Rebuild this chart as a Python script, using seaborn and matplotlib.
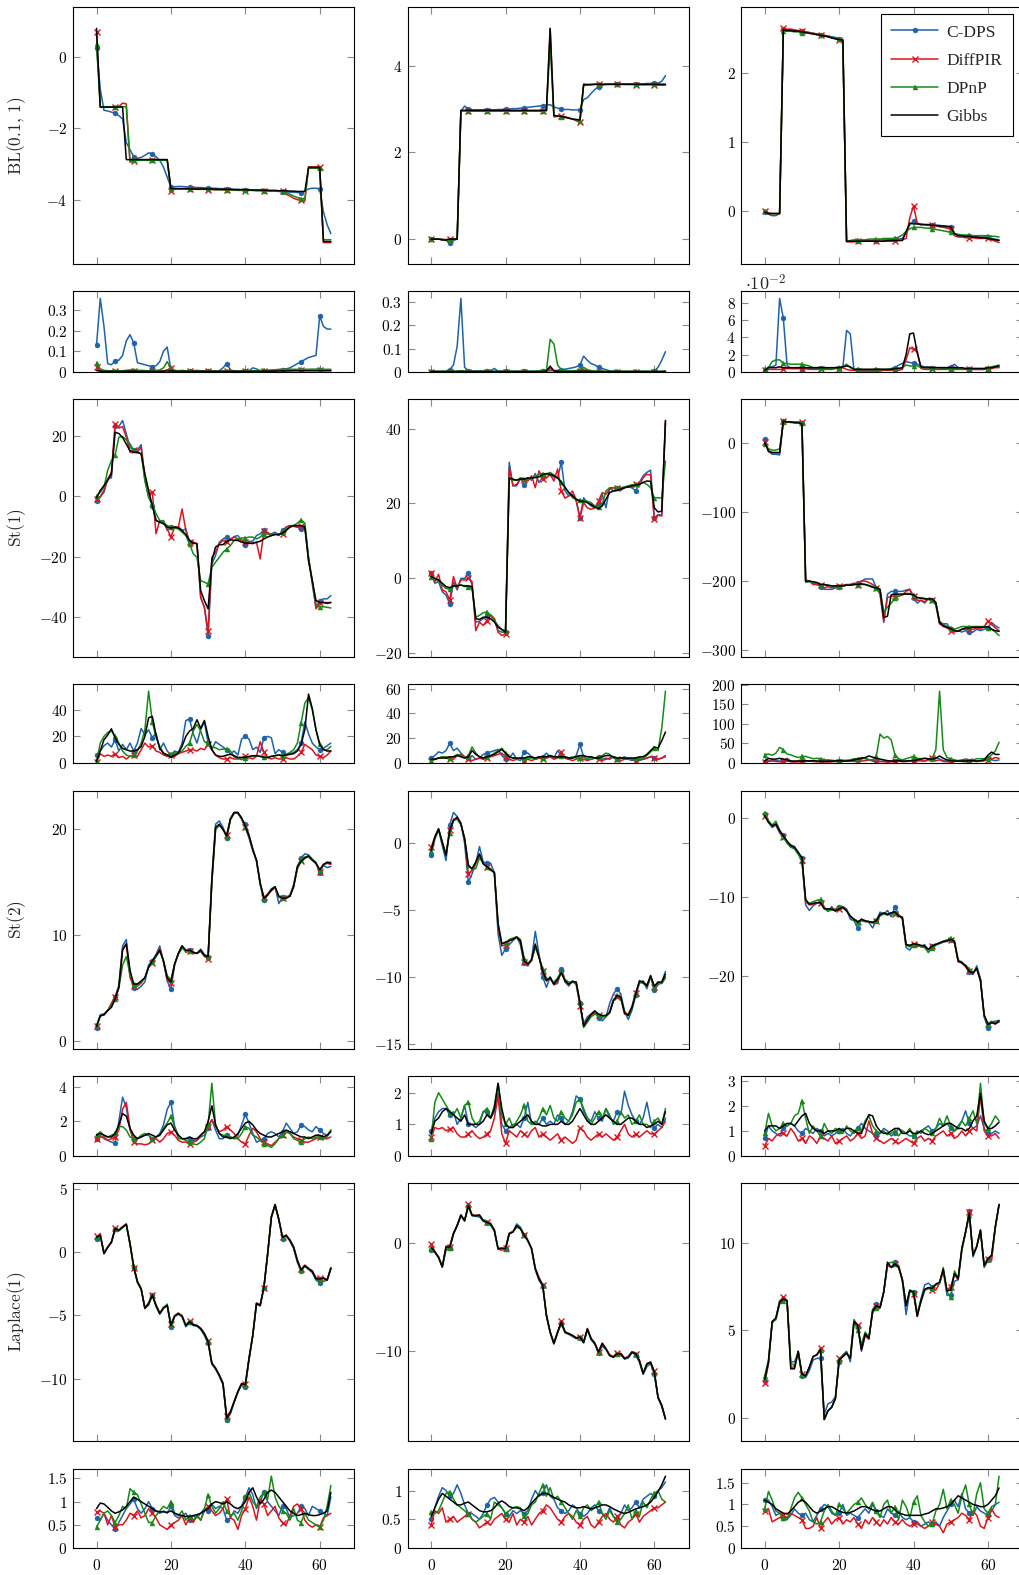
import numpy as np
import matplotlib
matplotlib.use("Agg")
import matplotlib.pyplot as plt
from matplotlib.lines import Line2D
from matplotlib.ticker import MultipleLocator, FuncFormatter
import seaborn as sns

# ---------------- data (index 0..63) ----------------
methods = ["C-DPS", "DiffPIR", "DPnP", "Gibbs"]

# BL(0.1,1)
bl1_cdps = [0.23,-0.9,-1.5,-1.52,-1.55,-1.58,-1.65,-1.74,-2.4,-2.6,
 -2.8,-2.84,-2.82,-2.76,-2.69,-2.72,-2.8,-2.9,-3.09,-3.37,
 -3.65,-3.64,-3.63,-3.63,-3.64,-3.65,-3.65,-3.66,-3.66,-3.67,
 -3.67,-3.68,-3.68,-3.69,-3.69,-3.7,-3.7,-3.71,-3.71,-3.72,
 -3.72,-3.73,-3.73,-3.74,-3.74,-3.75,-3.75,-3.76,-3.76,-3.77,
 -3.78,-3.78,-3.79,-3.79,-3.8,-3.8,-3.76,-3.7,-3.68,-3.68,
 -3.7,-4.34,-4.7,-4.95]
bl1_diffpir = [0.68,-1.41,-1.41,-1.41,-1.41,-1.41,-1.4,-1.3,-1.32,-2.95,
 -2.93,-2.88,-2.88,-2.88,-2.88,-2.88,-2.88,-2.88,-2.88,-2.88,
 -3.77,-3.7,-3.7,-3.7,-3.7,-3.7,-3.71,-3.71,-3.71,-3.71,
 -3.72,-3.72,-3.72,-3.72,-3.73,-3.73,-3.73,-3.73,-3.74,-3.74,
 -3.77,-3.74,-3.74,-3.75,-3.75,-3.75,-3.75,-3.76,-3.76,-3.76,
 -3.77,-3.85,-3.9,-3.96,-4.0,-4.02,-4.04,-3.08,-3.08,-3.08,
 -3.08,-5.2,-5.2,-5.2]
bl1_dpnp = [0.35,-1.4,-1.4,-1.4,-1.4,-1.4,-1.4,-1.4,-1.4,-2.92,
 -2.9,-2.9,-2.9,-2.9,-2.9,-2.9,-2.9,-2.9,-2.9,-2.9,
 -3.7,-3.7,-3.7,-3.7,-3.7,-3.7,-3.7,-3.71,-3.71,-3.71,
 -3.71,-3.71,-3.72,-3.72,-3.72,-3.72,-3.72,-3.73,-3.73,-3.73,
 -3.73,-3.73,-3.74,-3.74,-3.74,-3.74,-3.74,-3.75,-3.75,-3.75,
 -3.75,-3.8,-3.85,-3.9,-3.94,-3.97,-3.98,-3.12,-3.12,-3.12,
 -3.12,-5.12,-5.12,-5.12]
bl1_gibbs = [0.79,-1.41,-1.41,-1.41,-1.41,-1.41,-1.41,-1.41,-2.88,-2.88,
 -2.88,-2.88,-2.88,-2.88,-2.88,-2.88,-2.88,-2.88,-2.88,-2.88,
 -3.69,-3.69,-3.69,-3.69,-3.69,-3.7,-3.7,-3.7,-3.7,-3.7,
 -3.7,-3.7,-3.71,-3.71,-3.71,-3.71,-3.71,-3.72,-3.72,-3.72,
 -3.72,-3.73,-3.73,-3.73,-3.73,-3.74,-3.74,-3.74,-3.74,-3.75,
 -3.75,-3.75,-3.76,-3.76,-3.77,-3.77,-3.77,-3.1,-3.1,-3.1,
 -3.1,-5.17,-5.17,-5.17]

bl2_cdps = [0.0,0.0,0.0,0.0,-0.03,-0.08,-0.03,0.0,2.95,3.07,
 3.0,2.98,2.98,2.98,2.98,2.98,2.98,2.98,2.99,2.99,
 3.0,3.0,3.01,3.01,3.02,3.03,3.04,3.05,3.06,3.07,
 3.08,3.09,3.1,3.05,3.02,3.0,2.99,2.99,2.98,2.98,
 2.98,3.22,3.26,3.36,3.45,3.51,3.55,3.57,3.58,3.58,
 3.58,3.58,3.58,3.58,3.58,3.58,3.58,3.58,3.59,3.59,
 3.6,3.6,3.64,3.77]
bl2_diffpir = [0.0,0.0,0.0,-0.01,-0.01,0.0,0.0,0.0,2.96,2.96,
 2.95,2.95,2.95,2.95,2.95,2.95,2.95,2.95,2.95,2.95,
 2.95,2.95,2.95,2.95,2.95,2.95,2.95,2.95,2.95,2.95,
 2.95,2.96,4.86,2.82,2.83,2.84,2.82,2.8,2.77,2.73,
 2.69,3.58,3.57,3.57,3.57,3.57,3.57,3.57,3.57,3.57,
 3.57,3.57,3.57,3.57,3.57,3.56,3.56,3.56,3.56,3.56,
 3.56,3.55,3.55,3.55]
bl2_dpnp = [0.0,0.0,0.0,-0.01,-0.02,-0.01,0.0,0.0,2.95,2.96,
 2.96,2.96,2.96,2.96,2.96,2.96,2.96,2.96,2.96,2.96,
 2.96,2.96,2.96,2.96,2.96,2.96,2.96,2.96,2.96,2.96,
 2.96,2.97,4.5,2.85,2.84,2.82,2.81,2.79,2.77,2.75,
 2.73,3.55,3.56,3.57,3.57,3.57,3.57,3.57,3.57,3.57,
 3.57,3.57,3.57,3.57,3.57,3.57,3.57,3.57,3.57,3.57,
 3.57,3.57,3.57,3.57]
bl2_gibbs = [0.0,0.0,0.0,-0.02,-0.02,0.0,0.0,0.0,2.97,2.97,
 2.97,2.97,2.97,2.97,2.97,2.97,2.97,2.97,2.97,2.97,
 2.97,2.97,2.97,2.97,2.97,2.97,2.97,2.97,2.97,2.97,
 2.97,2.97,4.86,2.85,2.84,2.83,2.81,2.79,2.77,2.76,
 2.75,3.56,3.56,3.56,3.57,3.57,3.57,3.57,3.57,3.57,
 3.57,3.57,3.57,3.57,3.57,3.57,3.57,3.57,3.57,3.57,
 3.57,3.57,3.57,3.57]

bl3_cdps = [-0.02,-0.05,-0.07,-0.07,-0.04,2.63,2.62,2.62,2.61,2.6,
 2.6,2.59,2.58,2.57,2.56,2.55,2.54,2.53,2.52,2.51,
 2.49,2.48,-0.44,-0.44,-0.44,-0.44,-0.43,-0.43,-0.43,-0.43,
 -0.43,-0.42,-0.42,-0.42,-0.42,-0.41,-0.41,-0.4,-0.32,-0.2,
 -0.15,-0.18,-0.19,-0.2,-0.2,-0.2,-0.21,-0.21,-0.22,-0.22,
 -0.23,-0.33,-0.36,-0.37,-0.37,-0.37,-0.38,-0.38,-0.38,-0.38,
 -0.38,-0.4,-0.41,-0.42]
bl3_diffpir = [0.0,-0.03,-0.04,-0.04,-0.04,2.64,2.63,2.63,2.62,2.61,
 2.6,2.59,2.58,2.57,2.56,2.55,2.54,2.53,2.51,2.49,
 2.47,2.45,-0.45,-0.45,-0.45,-0.44,-0.44,-0.44,-0.44,-0.44,
 -0.44,-0.44,-0.44,-0.44,-0.44,-0.44,-0.43,-0.42,-0.4,-0.1,
 0.07,-0.18,-0.2,-0.2,-0.21,-0.21,-0.22,-0.23,-0.24,-0.25,
 -0.27,-0.36,-0.38,-0.38,-0.39,-0.39,-0.39,-0.4,-0.4,-0.4,
 -0.4,-0.42,-0.44,-0.46]
bl3_dpnp = [-0.01,-0.04,-0.04,-0.04,-0.04,2.6,2.6,2.6,2.59,2.59,
 2.58,2.58,2.57,2.56,2.55,2.54,2.53,2.52,2.51,2.5,
 2.49,2.47,-0.44,-0.43,-0.42,-0.42,-0.42,-0.42,-0.41,-0.41,
 -0.41,-0.41,-0.4,-0.4,-0.4,-0.4,-0.38,-0.35,-0.3,-0.26,
 -0.24,-0.24,-0.24,-0.25,-0.25,-0.26,-0.27,-0.28,-0.29,-0.3,
 -0.31,-0.33,-0.34,-0.35,-0.35,-0.35,-0.36,-0.36,-0.36,-0.36,
 -0.36,-0.37,-0.37,-0.38]
bl3_gibbs = [-0.02,-0.04,-0.04,-0.04,-0.04,2.62,2.61,2.61,2.6,2.6,
 2.59,2.58,2.57,2.56,2.55,2.54,2.53,2.52,2.5,2.49,
 2.48,2.47,-0.44,-0.44,-0.44,-0.44,-0.44,-0.44,-0.44,-0.44,
 -0.44,-0.44,-0.44,-0.43,-0.43,-0.43,-0.43,-0.43,-0.3,-0.18,
 -0.19,-0.19,-0.2,-0.2,-0.2,-0.21,-0.21,-0.22,-0.22,-0.23,
 -0.23,-0.33,-0.36,-0.36,-0.37,-0.37,-0.38,-0.38,-0.39,-0.39,
 -0.4,-0.41,-0.42,-0.43]

# BL errors
bl1e_cdps = [0.13,0.355,0.22,0.04,0.035,0.054,0.057,0.08,0.15,0.18,
 0.14,0.045,0.04,0.035,0.03,0.025,0.03,0.05,0.1,0.12,
 0.01,0.008,0.006,0.008,0.006,0.005,0.006,0.008,0.006,0.005,
 0.006,0.005,0.004,0.006,0.02,0.04,0.01,0.005,0.004,0.005,
 0.004,0.006,0.02,0.015,0.005,0.004,0.005,0.006,0.01,0.012,
 0.01,0.015,0.02,0.03,0.04,0.05,0.06,0.07,0.075,0.08,
 0.27,0.22,0.207,0.207]
bl1e_diffpir = [0.025,0.005,0.003,0.003,0.003,0.003,0.003,0.004,0.004,0.005,
 0.005,0.004,0.004,0.003,0.003,0.003,0.003,0.004,0.006,0.01,
 0.02,0.005,0.003,0.003,0.003,0.003,0.003,0.003,0.003,0.004,
 0.004,0.004,0.003,0.003,0.003,0.003,0.003,0.003,0.003,0.003,
 0.003,0.004,0.004,0.004,0.004,0.005,0.005,0.006,0.006,0.007,
 0.007,0.008,0.008,0.008,0.008,0.008,0.008,0.008,0.008,0.008,
 0.01,0.008,0.008,0.008]
bl1e_dpnp = [0.045,0.015,0.008,0.006,0.006,0.006,0.006,0.006,0.008,0.01,
 0.01,0.008,0.008,0.007,0.006,0.006,0.007,0.01,0.02,0.05,
 0.015,0.006,0.005,0.005,0.005,0.005,0.004,0.004,0.004,0.004,
 0.004,0.004,0.004,0.004,0.004,0.004,0.004,0.004,0.004,0.004,
 0.005,0.005,0.006,0.006,0.007,0.008,0.009,0.01,0.011,0.012,
 0.012,0.013,0.013,0.013,0.013,0.013,0.013,0.013,0.014,0.014,
 0.015,0.013,0.013,0.013]
bl1e_gibbs = [0.008,0.004,0.003,0.003,0.003,0.003,0.003,0.003,0.004,0.004,
 0.004,0.003,0.003,0.003,0.003,0.003,0.003,0.003,0.004,0.005,
 0.006,0.004,0.003,0.003,0.003,0.003,0.003,0.003,0.003,0.003,
 0.003,0.003,0.003,0.003,0.003,0.003,0.003,0.003,0.003,0.003,
 0.003,0.003,0.003,0.003,0.003,0.004,0.004,0.004,0.004,0.005,
 0.005,0.005,0.005,0.006,0.006,0.006,0.006,0.006,0.006,0.006,
 0.007,0.006,0.006,0.006]

bl2e_cdps = [0.002,0.002,0.002,0.002,0.003,0.01,0.03,0.11,0.315,0.02,
 0.005,0.004,0.004,0.004,0.004,0.005,0.006,0.015,0.004,0.003,
 0.003,0.003,0.003,0.003,0.003,0.003,0.003,0.003,0.003,0.003,
 0.003,0.004,0.005,0.006,0.007,0.01,0.012,0.015,0.018,0.022,
 0.03,0.068,0.05,0.036,0.03,0.02,0.015,0.01,0.005,0.003,
 0.002,0.002,0.002,0.002,0.002,0.002,0.002,0.002,0.002,0.002,
 0.003,0.02,0.05,0.087]
bl2e_diffpir = [0.001,0.001,0.001,0.001,0.001,0.001,0.001,0.001,0.002,0.002,
 0.001,0.001,0.001,0.001,0.001,0.001,0.001,0.001,0.001,0.001,
 0.001,0.001,0.001,0.001,0.001,0.001,0.001,0.001,0.001,0.001,
 0.001,0.003,0.015,0.004,0.002,0.002,0.002,0.002,0.002,0.003,
 0.005,0.01,0.004,0.002,0.001,0.001,0.001,0.001,0.001,0.001,
 0.001,0.001,0.001,0.001,0.001,0.001,0.001,0.001,0.001,0.001,
 0.001,0.001,0.001,0.002]
bl2e_dpnp = [0.003,0.003,0.003,0.003,0.003,0.003,0.004,0.004,0.005,0.004,
 0.003,0.003,0.003,0.003,0.003,0.003,0.003,0.003,0.003,0.003,
 0.003,0.003,0.003,0.003,0.003,0.003,0.003,0.003,0.003,0.004,
 0.005,0.007,0.14,0.12,0.03,0.01,0.006,0.005,0.005,0.006,
 0.01,0.02,0.01,0.006,0.004,0.003,0.003,0.003,0.003,0.003,
 0.003,0.003,0.003,0.003,0.003,0.003,0.003,0.003,0.003,0.003,
 0.003,0.003,0.003,0.004]
bl2e_gibbs = [0.002,0.002,0.002,0.002,0.002,0.002,0.002,0.002,0.003,0.002,
 0.002,0.002,0.002,0.002,0.002,0.002,0.002,0.002,0.002,0.002,
 0.002,0.002,0.002,0.002,0.002,0.002,0.002,0.002,0.002,0.002,
 0.002,0.004,0.025,0.005,0.003,0.002,0.002,0.002,0.002,0.002,
 0.003,0.004,0.003,0.002,0.002,0.002,0.002,0.002,0.002,0.002,
 0.002,0.002,0.002,0.002,0.002,0.002,0.002,0.002,0.002,0.002,
 0.002,0.002,0.002,0.003]

# third column in units of 1e-2
bl3e_cdps = [0.1,0.6,0.6,0.8,8.5,6.2,0.8,0.4,0.4,0.4,
 0.4,0.4,0.4,0.4,0.4,0.5,0.4,0.4,0.4,0.5,
 0.5,0.5,4.8,4.4,0.2,0.2,0.2,0.2,0.2,0.2,
 0.2,0.3,0.3,0.3,0.4,0.5,0.8,1.0,1.2,1.1,
 1.0,0.9,0.7,0.6,0.6,0.5,0.5,0.5,0.5,0.5,
 0.6,0.9,0.5,0.4,0.3,0.3,0.3,0.3,0.3,0.3,
 0.4,0.5,0.6,0.6]
bl3e_diffpir = [0.2,0.3,0.3,0.3,0.3,0.3,0.4,0.4,0.4,0.4,
 0.4,0.4,0.3,0.3,0.3,0.3,0.3,0.3,0.3,0.4,
 0.4,0.5,0.3,0.2,0.2,0.1,0.1,0.1,0.1,0.1,
 0.1,0.1,0.2,0.2,0.2,0.2,0.2,0.3,1.4,2.8,
 2.6,2.4,0.4,0.3,0.3,0.3,0.3,0.3,0.3,0.3,
 0.3,0.3,0.3,0.3,0.3,0.3,0.3,0.3,0.3,0.3,
 0.4,0.4,0.5,0.5]
bl3e_dpnp = [0.3,0.5,1.2,1.4,1.4,1.0,1.0,0.9,0.9,0.9,
 0.9,0.8,0.7,0.5,0.5,0.5,0.4,0.4,0.4,0.5,
 0.5,0.6,0.9,0.5,0.3,0.3,0.3,0.3,0.3,0.3,
 0.3,0.3,0.3,0.3,0.3,0.3,0.4,0.5,0.8,0.7,
 0.7,0.7,0.5,0.5,0.5,0.5,0.5,0.5,0.4,0.4,
 0.4,0.4,0.4,0.4,0.4,0.4,0.4,0.4,0.4,0.4,
 0.5,0.6,0.7,0.8]
bl3e_gibbs = [0.2,0.5,0.5,0.5,0.6,0.5,0.5,0.5,0.5,0.5,
 0.5,0.5,0.5,0.5,0.5,0.5,0.5,0.5,0.5,0.5,
 0.5,0.6,0.7,0.6,0.3,0.3,0.3,0.3,0.3,0.3,
 0.3,0.3,0.3,0.3,0.3,0.4,0.4,0.5,2.0,4.4,
 4.5,2.2,0.6,0.5,0.5,0.5,0.5,0.5,0.5,0.5,
 0.5,0.5,0.5,0.5,0.4,0.4,0.4,0.4,0.4,0.4,
 0.5,0.5,0.6,0.7]

# St(1)
st1a_cdps = [-1.6,-0.3,1.3,5.7,6.1,23.3,23.0,25.0,20.6,16.2,
 15.1,15.3,17.0,5.2,-0.3,-3.1,-8.0,-8.6,-8.0,-11.3,
 -10.2,-10.5,-10.0,-11.3,-10.8,-15.2,-15.2,-15.7,-33.4,-36.7,
 -46.0,-22.4,-19.6,-15.2,-14.1,-13.5,-14.4,-13.3,-13.0,-14.6,
 -16.0,-14.9,-14.9,-13.0,-12.4,-11.1,-12.4,-12.4,-11.9,-13.0,
 -11.3,-10.2,-9.7,-9.7,-10.2,-10.8,-9.7,-20.2,-29.0,-36.7,
 -34.5,-33.9,-33.9,-32.8]
st1a_diffpir = [-0.9,-0.1,1.9,5.7,7.9,23.9,22.5,23.0,19.5,14.5,
 15.3,14.5,16.2,6.3,0.8,1.3,-12.4,-8.0,-8.6,-10.8,
 -13.5,-10.2,-10.2,-4.2,-11.3,-15.2,-15.2,-15.7,-33.4,-36.7,
 -44.6,-20.2,-18.5,-15.7,-14.6,-15.2,-14.1,-13.5,-14.1,-14.6,
 -15.2,-15.5,-15.7,-15.2,-20.7,-11.6,-11.9,-13.0,-12.4,-12.4,
 -12.4,-10.2,-9.7,-10.0,-10.2,-9.7,-10.0,-21.3,-27.9,-37.2,
 -35.4,-35.1,-35.1,-35.1]
st1a_dpnp = [0.0,1.3,3.0,8.5,11.8,13.5,19.5,19.7,18.6,17.3,
 15.1,14.5,14.0,5.2,-0.3,-2.5,-5.8,-8.0,-8.6,-9.7,
 -10.2,-10.5,-10.8,-11.9,-13.0,-15.7,-19.0,-20.2,-27.9,-28.4,
 -29.0,-23.5,-21.8,-20.2,-18.5,-17.4,-16.3,-14.6,-14.1,-13.8,
 -13.8,-13.5,-13.5,-14.1,-13.5,-12.4,-12.4,-13.0,-12.4,-12.7,
 -11.9,-10.8,-10.2,-9.7,-8.9,-7.8,-8.9,-20.2,-27.9,-35.6,
 -36.7,-36.5,-36.7,-36.9]
st1a_gibbs = [-0.5,1.9,3.5,5.2,7.4,21.1,20.7,19.4,17.2,15.0,
 14.5,14.5,14.0,7.4,1.9,-3.1,-8.0,-8.6,-9.1,-10.2,
 -10.5,-10.2,-10.5,-11.3,-12.7,-14.6,-15.5,-15.7,-31.2,-34.5,
 -37.2,-21.3,-16.8,-16.0,-16.0,-14.9,-14.4,-14.6,-14.6,-15.2,
 -15.5,-15.5,-15.5,-15.2,-14.9,-14.1,-13.5,-13.0,-12.7,-12.7,
 -12.2,-11.3,-10.2,-9.7,-9.7,-9.7,-10.2,-21.3,-27.9,-34.5,
 -35.1,-35.1,-35.4,-35.1]

st1b_cdps = [1.3,-1.4,-1.0,-3.7,-4.6,-6.9,-1.0,-3.2,-0.1,-0.1,
 1.3,-1.9,-11.8,-11.6,-10.9,-10.2,-10.2,-10.9,-14.1,-14.5,
 -14.5,31.0,24.7,24.7,26.8,25.0,26.8,26.2,28.0,25.6,
 27.1,27.8,27.4,27.1,26.8,31.0,23.3,22.0,22.4,20.6,
 16.1,21.5,20.2,19.3,18.8,19.7,22.4,18.8,24.2,23.3,
 24.2,23.5,24.2,24.4,24.2,23.3,25.6,27.4,28.3,28.9,
 16.1,17.0,16.8,41.4]
st1b_diffpir = [1.3,-1.0,1.0,-3.2,-3.7,-5.9,0.4,-2.8,-0.5,-0.5,
 -0.1,-1.0,-14.1,-11.8,-12.7,-11.4,-9.8,-10.9,-14.5,-15.4,
 -15.0,29.6,24.7,25.1,26.5,26.2,26.0,27.4,24.2,28.7,
 26.5,26.8,27.8,26.0,29.2,23.3,21.4,22.0,23.3,21.0,
 16.1,20.2,18.8,18.4,18.8,20.6,22.9,22.4,23.8,24.2,
 24.0,24.2,24.2,24.7,24.2,25.3,24.7,26.9,27.8,27.6,
 15.7,16.8,16.6,42.2]
st1b_dpnp = [0.4,-0.1,-1.0,-1.9,-2.8,-3.0,-2.3,-1.9,-1.9,-2.3,
 -2.3,-2.8,-10.5,-10.0,-9.3,-9.1,-10.0,-11.4,-12.7,-13.8,
 -14.1,26.5,26.2,26.2,26.8,26.5,26.5,26.8,27.1,27.8,
 28.0,27.8,28.3,27.6,26.9,25.8,24.4,22.9,21.5,21.1,
 20.8,20.8,20.6,20.2,19.3,19.0,19.7,23.3,24.2,24.2,
 24.2,24.2,24.4,24.7,25.0,25.1,25.3,25.6,25.1,24.2,
 21.5,21.5,21.4,31.3]
st1b_gibbs = [0.4,-0.1,-0.5,-1.4,-2.3,-2.6,-2.1,-2.1,-1.9,-2.1,
 -2.1,-2.3,-10.9,-11.1,-10.5,-10.5,-10.9,-11.8,-13.2,-13.8,
 -14.5,26.8,26.5,26.2,26.5,26.5,26.8,26.8,26.9,27.1,
 27.7,28.0,27.8,27.4,26.8,25.6,24.2,22.9,22.0,21.1,
 20.6,20.5,20.2,19.7,19.0,18.6,19.3,21.1,22.9,23.3,
 23.5,23.8,24.2,24.4,24.7,24.9,25.1,25.6,26.0,25.9,
 18.8,17.7,17.9,42.2]

st1c_cdps = [6,-12,-16,-16,-17,33,31,31,30,30,
 30,-198,-200,-203,-205,-208,-212,-212,-212,-210,
 -208,-207,-206,-205,-205,-203,-200,-197,-197,-197,
 -210,-219,-260,-219,-215,-215,-215,-215,-213,-212,
 -225,-232,-228,-232,-225,-228,-235,-262,-262,-262,
 -270,-272,-272,-274,-272,-274,-274,-270,-272,-270,
 -268,-260,-265,-268]
st1c_diffpir = [2.5,-12,-14,-14,-14,32,31,31,31,31,
 31,-200,-200,-205,-205,-206,-210,-208,-210,-208,
 -207,-206,-205,-205,-203,-205,-200,-200,-202,-205,
 -210,-217,-258,-224,-222,-222,-222,-220,-215,-212,
 -222,-228,-228,-230,-226,-228,-233,-262,-266,-268,
 -272,-274,-272,-270,-270,-270,-270,-268,-270,-266,
 -258,-263,-268,-272]
st1c_dpnp = [-1.5,-8,-10,-10,-8,31,31,30,30,30,
 30,-201,-201,-202,-203,-205,-206,-206,-207,-207,
 -207,-207,-206,-206,-205,-205,-205,-205,-206,-208,
 -210,-212,-245,-238,-232,-225,-222,-220,-218,-218,
 -220,-224,-224,-225,-227,-228,-232,-258,-263,-266,
 -268,-270,-268,-266,-266,-266,-266,-266,-266,-266,
 -268,-270,-274,-279]
st1c_gibbs = [1,-11,-13.4,-13.4,-13.4,32,31,31,29.7,29.7,
 28,-201,-200,-201,-202,-205,-205,-206,-207,-207,
 -207,-207,-206,-206,-205,-205,-204,-205,-207,-209,
 -210,-212,-253,-251,-220,-219,-219,-219,-219,-219,
 -220,-224,-225,-226,-226,-226,-231,-260,-265,-267,
 -269,-272,-273,-270,-268,-268,-267,-267,-267,-267,
 -266,-270,-272,-273]

# St(1) errors
st1ae_cdps = [6,9,13,15,12,17.5,9,14,10,15,
 9,15,26,21,25,19,22.5,10,15,9,
 6,9,8,15,32,33,22,15,25,31,
 15,10,16,14,12,10,7,9,6,18,
 20,18,10,12,8,19,20,19,7,10,
 8,6,7,8,10,15,31,22,15,12,
 10,11,13,15]
st1ae_diffpir = [1,7,5,6,5,7,4,5,3,5,
 6,5,10,15,12,13,9,8,6,5,
 6,5,7,8,9,10,10,9,11,10,
 14,10,6,4,3,3,4,3,3,4,
 5,4,3,5,16,8,4,3,4,3,
 3,4,3,3,5,8,14,12,10,6,
 5,4,6,9]
st1ae_dpnp = [1.2,15,20,23,24,20,15,9,6,5,
 6,9,15,25,54,31,19,12.5,7,6,
 6.5,7.5,8,9,12.5,15,24,29,24,16,
 15,12,11.5,10,10.5,10.5,9,4.5,3.5,2.5,
 3.5,4.5,5,5.5,5,4.5,4,5,5.5,6,
 5.5,6.5,8,10,15,30,45,49,40,25,
 14,10,10,12.5]
st1ae_gibbs = [1.2,9,17.5,21,25.7,19,14,11,10,9,
 9,10,12.5,20,34,35,21,11,7.5,6,
 4.4,6,7.5,12.5,20,24,26,32.5,26,32,
 20,10,6,5,5,6,6.5,5.5,4.2,4.2,
 4.2,5,5.5,5.5,5,4.2,4.2,5,5.5,6,
 5.5,6,6.5,7,9,14,25,51.8,41,25,
 14,10,9,9]

st1be_cdps = [4,6,9,8,10,16,10,12,8,5,
 4,6,3,4,7,8,9,10,11,6,
 3,4,8,3,2,9,8,5,3,4,
 5,8,5,4,10,6,4,3,4,6,
 15,5,3,5,4,5,3,4,3,5,
 3,4,5,3,2,3,2,3,4,5,
 4,3,4,5]
st1be_diffpir = [2,3,4,5,4,3,3,6,7,5,
 3,2,3,4,3,4,5,6,7,8,
 5,3,2,3,4,2,3,2,3,4,
 3,4,5,3,4,9,4,3,2,3,
 4,3,2,3,4,3,2,3,4,5,
 3,2,3,4,3,2,3,3,4,5,
 4,3,4,6]
st1be_dpnp = [2,3,4,5,5,4,5,7,6,4,
 6,13,8,5,4,5,6,8,10,12,
 8,5,4,3,4,3,4,4,3,5,
 4,5,6,5,4,6,5,4,5,4,
 4,5,3,3,4,5,6,8,7,4,
 3,4,3,3,4,3,4,4,6,9,
 12,10,28,58]
st1be_gibbs = [3,3,4,4,4,5,5,6,5,4,
 5,10,7,5,4,5,6,7,9,11,
 8,5,4,4,4,4,5,5,4,5,
 5,5,6,5,5,5,5,4,4,5,
 6,6,5,5,4,4,5,6,6,5,
 4,4,4,4,4,4,5,5,7,10,
 13,12,18,25]

st1ce_cdps = [3,5,8,6,5,6,12,5,4,5,
 4,5,6,5,4,5,6,5,4,5,
 4,5,6,5,6,8,10,13,9,6,
 5,4,5,4,5,6,8,5,4,5,
 6,10,6,5,8,9,14,10,6,5,
 4,5,6,8,10,6,5,4,5,6,
 12,8,6,8]
st1ce_diffpir = [2,4,5,4,3,4,5,3,2,3,
 3,4,5,4,3,4,3,2,3,4,
 3,4,5,6,4,3,5,6,8,5,
 3,4,3,2,3,4,5,3,4,5,
 4,5,6,5,8,12,6,8,4,3,
 3,4,5,4,3,4,5,4,5,6,
 8,10,14,12]
st1ce_dpnp = [21,23,20,25,40,34,23,21,17,14,
 17,17,14,11,12,11,8,8,7,6,
 6,7,7,8,11,11,14,11,8,8,
 17,74,64,68,59,21,11,8,11,14,
 17,12,11,12,11,12,34,184,34,14,
 11,8,6,5,6,6,8,11,11,11,
 12,21,31,53]
st1ce_gibbs = [5,12,10,10,12,10,8,5,5,5,
 5,6,5,6,5,5,4,5,5,5,
 6,5,5,6,8,10,12,14,18,15,
 12,10,8,6,5,5,6,5,5,6,
 6,8,10,12,10,10,12,18,12,8,
 6,5,5,5,5,6,6,5,6,8,
 20,28,22,22]

# St(2)
st2a_cdps = [1.3,2.5,2.6,2.9,3.3,4.2,5.3,9.0,9.6,6.5,
 5.0,4.9,5.2,5.6,7.2,7.6,8.2,9.0,7.5,5.7,
 4.9,7.2,8.3,9.0,8.5,8.6,8.4,8.3,8.7,8.2,
 8.0,15.5,20.5,20.8,20.2,19.2,21.0,21.6,21.5,21.0,
 20.5,19.5,18.2,17.0,14.8,13.3,13.9,14.4,14.6,13.0,
 13.6,13.6,13.8,14.8,16.5,17.3,17.7,17.6,17.2,16.9,
 15.9,16.6,16.4,16.5]
st2a_diffpir = [1.4,2.4,2.5,2.9,3.6,4.2,5.1,8.7,9.2,6.0,
 5.2,5.2,5.5,6.0,7.0,7.4,8.0,8.8,7.5,5.8,
 5.5,7.3,8.3,9.0,8.4,8.5,8.3,8.3,8.5,8.0,
 7.8,15.0,20.0,20.4,20.0,19.5,21.0,21.6,21.6,21.0,
 20.2,19.2,18.0,17.1,14.9,13.6,13.9,14.2,14.5,13.6,
 13.5,13.6,13.7,14.7,16.3,17.0,17.3,17.4,17.1,16.8,
 16.0,16.7,16.8,16.7]
st2a_dpnp = [1.5,2.4,2.5,2.9,3.3,4.0,5.0,7.2,8.0,6.3,
 5.4,5.4,5.6,6.0,7.0,7.5,8.0,8.5,7.6,6.2,
 5.8,7.3,8.2,8.8,8.5,8.5,8.4,8.3,8.5,8.1,
 8.0,15.0,20.0,20.4,20.0,19.3,20.9,21.5,21.6,21.0,
 20.2,19.3,18.1,17.1,15.0,13.4,13.8,14.3,14.5,13.7,
 13.5,13.6,13.7,14.6,16.3,17.1,17.4,17.5,17.2,16.8,
 16.2,16.6,16.9,16.9]
st2a_gibbs = [1.4,2.4,2.5,2.9,3.2,4.0,5.1,8.6,9.2,6.7,
 5.4,5.4,5.7,6.0,7.0,7.6,8.1,8.6,7.6,6.0,
 5.6,7.3,8.3,9.0,8.6,8.6,8.4,8.3,8.6,8.1,
 8.0,15.2,20.2,20.5,20.0,19.4,21.0,21.6,21.6,21.1,
 20.3,19.4,18.1,17.1,14.9,13.5,13.8,14.3,14.6,13.7,
 13.5,13.5,13.7,14.6,16.5,17.0,17.3,17.5,17.1,16.8,
 16.2,16.7,16.9,16.8]

st2b_cdps = [-0.85,0.3,1.0,-0.2,-1.3,1.4,2.3,2.0,1.5,0.0,
 -2.9,-2.3,-1.5,-0.25,-1.4,-1.5,-1.5,-2.2,-6.8,-8.4,
 -7.9,-7.6,-7.3,-7.0,-7.6,-9.0,-9.2,-8.7,-6.6,-8.3,
 -10.0,-10.8,-10.0,-10.6,-10.5,-9.4,-10.4,-10.7,-10.3,-10.6,
 -12.0,-13.5,-13.0,-12.8,-12.6,-13.1,-13.3,-13.0,-12.0,-11.3,
 -10.9,-11.3,-12.6,-13.2,-12.5,-11.4,-10.5,-10.3,-10.9,-10.0,
 -11.0,-10.6,-10.4,-9.6]
st2b_diffpir = [-0.3,0.5,1.1,0.0,-0.9,1.0,1.8,1.9,1.5,0.3,
 -2.3,-2.0,-1.5,-0.9,-1.5,-1.8,-1.9,-2.2,-6.3,-7.7,
 -7.6,-7.3,-7.2,-7.0,-7.4,-8.9,-9.1,-8.8,-7.7,-8.5,
 -9.6,-10.3,-10.1,-10.6,-10.3,-9.7,-10.3,-10.6,-10.4,-10.5,
 -12.2,-13.6,-13.2,-12.9,-12.7,-12.9,-13.0,-12.9,-12.6,-11.7,
 -11.5,-11.6,-12.8,-12.8,-12.2,-11.2,-10.4,-10.4,-10.6,-10.0,
 -10.8,-10.4,-10.5,-10.0]
st2b_dpnp = [-0.6,0.4,1.0,0.1,-0.8,0.8,1.7,1.8,1.4,0.4,
 -1.6,-2.0,-1.9,-1.1,-1.5,-1.8,-2.0,-2.2,-6.0,-7.5,
 -7.5,-7.2,-7.1,-7.0,-7.2,-8.6,-9.0,-8.8,-7.8,-8.5,
 -9.4,-10.1,-10.2,-10.4,-10.1,-9.6,-10.2,-10.4,-10.4,-10.4,
 -11.9,-13.8,-13.4,-13.0,-12.8,-12.9,-13.0,-13.0,-12.7,-11.8,
 -11.4,-11.6,-12.6,-12.9,-12.3,-11.2,-10.4,-10.5,-10.7,-10.0,
 -10.8,-10.5,-10.5,-10.1]
st2b_gibbs = [-0.55,0.45,1.07,0.07,-0.9,0.95,1.7,1.95,1.45,0.33,
 -1.67,-1.9,-1.4,-0.8,-1.55,-1.75,-2.0,-2.2,-6.05,-7.55,
 -7.4,-7.3,-7.2,-7.05,-7.3,-8.8,-9.05,-8.7,-7.55,-8.55,
 -9.55,-10.3,-10.05,-10.55,-10.2,-9.7,-10.3,-10.55,-10.35,-10.4,
 -11.9,-13.7,-13.25,-12.8,-12.55,-12.8,-12.9,-12.9,-12.7,-11.8,
 -11.4,-11.55,-12.7,-12.9,-12.3,-11.3,-10.3,-10.4,-10.7,-9.9,
 -10.7,-10.4,-10.4,-9.8]

st2c_cdps = [0.5,-0.5,-1.2,-0.9,-1.9,-2.2,-3.0,-3.4,-3.6,-4.4,
 -5.1,-11.0,-11.7,-11.1,-10.8,-10.6,-11.3,-11.8,-11.2,-11.8,
 -11.2,-11.2,-11.5,-12.8,-13.0,-13.9,-12.8,-13.0,-13.2,-13.9,
 -13.0,-11.9,-12.2,-11.7,-12.5,-11.3,-12.2,-12.8,-16.4,-16.7,
 -16.0,-15.9,-16.3,-16.0,-17.0,-16.2,-16.0,-15.9,-15.7,-15.6,
 -15.4,-15.7,-18.0,-18.2,-18.8,-19.5,-19.8,-18.7,-20.3,-25.2,
 -26.5,-25.8,-25.7,-25.6]
st2c_diffpir = [0.2,-0.4,-1.1,-0.8,-1.7,-2.4,-3.0,-3.5,-3.8,-4.3,
 -5.3,-10.6,-11.0,-10.9,-10.7,-10.8,-11.4,-11.5,-11.6,-11.5,
 -11.5,-11.4,-11.6,-12.5,-12.8,-13.1,-13.0,-13.1,-13.1,-13.3,
 -13.0,-12.3,-12.0,-12.2,-12.0,-12.1,-12.4,-12.5,-16.0,-16.2,
 -15.9,-16.2,-16.2,-16.3,-16.6,-16.2,-16.0,-15.8,-15.7,-15.5,
 -15.4,-15.7,-18.2,-18.3,-18.8,-19.3,-19.6,-19.1,-20.5,-25.0,
 -26.0,-25.8,-26.1,-25.6]
st2c_dpnp = [0.7,-0.3,-0.9,-0.4,-1.5,-2.4,-3.2,-3.7,-3.9,-4.6,
 -5.4,-10.5,-10.8,-10.6,-10.4,-10.3,-11.4,-11.8,-11.6,-11.7,
 -11.2,-11.3,-11.7,-12.4,-12.9,-13.2,-12.9,-13.1,-13.1,-13.2,
 -12.9,-12.4,-12.1,-12.3,-12.1,-12.0,-12.3,-12.6,-16.1,-16.3,
 -16.0,-16.1,-16.3,-16.4,-17.0,-16.4,-16.1,-15.8,-15.6,-15.4,
 -15.2,-15.6,-17.9,-18.4,-18.6,-19.1,-19.5,-19.1,-20.4,-25.1,
 -26.0,-25.7,-26.0,-25.8]
st2c_gibbs = [0.3,-0.55,-1.0,-0.75,-1.6,-2.25,-2.9,-3.5,-3.7,-4.35,
 -5.0,-10.3,-10.9,-10.8,-10.7,-10.7,-11.5,-11.5,-11.5,-11.75,
 -11.5,-11.3,-11.75,-12.4,-12.8,-13.2,-12.8,-13.0,-13.1,-13.2,
 -13.0,-12.2,-12.0,-12.2,-12.0,-11.85,-12.4,-12.6,-16.0,-16.1,
 -15.9,-16.0,-16.1,-16.2,-16.6,-16.2,-16.0,-15.8,-15.6,-15.55,
 -15.35,-15.6,-18.1,-18.3,-18.7,-19.4,-19.6,-19.0,-20.6,-24.9,
 -26.1,-25.9,-26.0,-25.7]

# St(2) errors
st2ae_cdps = [1.0,1.2,1.0,0.9,0.8,0.75,2.0,3.4,2.8,1.5,
 1.0,1.0,1.1,1.2,1.2,1.0,1.1,1.3,1.8,2.7,
 3.1,1.7,1.2,1.0,1.0,1.0,0.9,0.9,1.1,1.2,
 1.6,2.1,1.5,1.0,1.0,1.2,1.1,1.0,1.2,1.8,
 2.4,1.9,1.3,0.8,0.9,1.0,1.3,1.4,1.3,1.1,
 1.4,1.9,1.6,1.3,1.4,1.8,1.7,1.5,1.4,1.7,
 1.5,1.3,1.2,1.5]
st2ae_diffpir = [1.0,1.1,1.1,0.9,1.0,1.1,1.5,2.7,3.1,1.6,
 0.8,0.7,0.7,0.65,0.7,0.9,1.0,0.8,1.0,1.3,
 1.4,1.2,0.9,0.8,0.8,0.7,0.8,0.9,1.2,1.4,
 1.7,2.1,1.7,1.4,1.5,1.7,1.5,1.3,1.0,0.8,
 0.7,1.2,1.6,1.4,1.0,0.8,0.7,0.6,0.8,1.0,
 1.2,1.4,1.3,1.1,1.0,0.9,0.8,0.8,0.9,1.0,
 1.1,1.0,1.0,1.1]
st2ae_dpnp = [1.2,1.4,1.2,1.1,1.2,1.3,1.7,1.7,1.5,1.1,
 1.0,1.0,1.2,1.3,1.2,1.0,1.1,1.2,1.6,1.9,
 2.3,1.7,1.0,1.0,0.9,0.8,0.7,0.65,0.8,1.0,
 1.8,4.2,1.8,1.3,1.2,1.2,1.1,1.0,1.0,1.3,
 1.7,1.6,1.2,1.1,0.9,0.7,0.6,0.5,0.7,1.0,
 1.2,1.4,1.3,1.0,0.9,0.8,1.0,1.1,1.0,1.1,
 1.1,1.0,1.1,1.5]
st2ae_gibbs = [1.2,1.3,1.2,1.1,1.1,1.3,1.8,2.45,2.3,1.6,
 1.2,1.0,1.1,1.2,1.3,1.2,1.1,1.2,1.5,1.8,
 1.9,1.5,1.2,1.0,1.0,1.1,1.0,1.0,1.2,1.4,
 2.0,2.9,1.8,1.3,1.1,1.1,1.0,1.1,1.3,1.6,
 1.9,2.0,1.8,1.5,1.3,1.2,1.1,1.1,1.2,1.3,
 1.4,1.5,1.4,1.3,1.2,1.1,1.1,1.0,1.1,1.2,
 1.2,1.1,1.2,1.4]

st2be_cdps = [0.8,1.2,1.4,1.5,1.5,1.3,1.4,1.0,1.2,1.6,
 1.0,1.0,0.9,1.0,1.4,1.4,1.2,1.4,2.0,1.0,
 0.8,0.9,1.0,1.0,0.9,1.2,1.7,1.0,1.1,1.0,
 1.2,1.0,1.1,1.0,1.3,1.2,1.0,1.1,1.4,1.9,
 1.8,1.4,1.2,1.1,1.4,1.2,1.1,1.5,1.2,1.1,
 1.4,1.3,2.05,1.6,1.3,1.1,1.0,1.2,1.7,1.1,
 0.9,1.0,0.9,1.2]
st2be_diffpir = [0.6,0.9,0.85,0.9,0.8,0.85,0.9,0.7,0.6,0.6,
 0.7,0.8,0.65,0.55,0.6,0.7,0.8,1.2,1.9,0.7,
 0.4,0.8,0.7,0.6,0.8,0.7,0.6,0.8,0.9,0.6,
 0.7,0.6,0.5,0.6,0.7,0.5,0.6,0.5,0.4,0.5,
 0.9,0.8,0.6,0.5,0.6,0.7,0.6,0.7,0.6,0.5,
 0.6,0.8,1.0,0.7,0.6,0.7,0.6,0.7,0.8,0.7,
 0.7,0.8,0.9,1.1]
st2be_dpnp = [0.55,1.7,2.0,1.8,1.6,1.4,1.3,1.5,1.2,1.6,
 1.7,1.2,1.0,1.1,1.4,1.5,1.2,1.6,2.3,1.3,
 1.0,1.2,0.9,1.1,1.3,1.6,1.1,1.0,1.0,1.2,
 1.5,1.3,1.6,1.2,1.1,1.4,1.2,1.1,1.3,1.7,
 1.8,1.5,1.2,1.0,1.2,1.4,1.2,1.5,1.3,1.0,
 1.1,1.4,1.2,1.3,1.0,1.1,1.3,1.0,1.0,0.9,
 1.1,1.2,1.0,1.5]
st2be_gibbs = [0.7,1.1,1.2,1.4,1.5,1.4,1.3,1.2,1.1,1.3,
 1.0,1.0,1.0,1.0,1.1,1.3,1.2,1.5,2.3,1.5,
 1.0,0.9,0.9,1.0,1.1,1.2,1.3,1.1,1.0,1.0,
 0.95,0.95,1.0,1.0,1.0,1.1,1.0,1.0,1.1,1.3,
 1.5,1.3,1.1,1.0,1.0,1.1,1.2,1.3,1.2,1.1,
 1.0,1.0,1.1,1.2,1.2,1.1,1.0,1.0,0.9,0.95,
 1.0,1.1,1.0,1.4]

st2ce_cdps = [0.7,1.2,1.0,0.9,0.8,1.1,1.2,1.3,1.2,1.0,
 0.9,1.1,1.0,0.9,1.1,1.0,0.8,0.9,0.8,0.9,
 1.0,1.1,0.9,0.8,1.0,1.1,1.3,1.1,1.0,0.9,
 0.8,0.9,1.1,1.0,0.8,0.9,1.1,1.0,0.9,0.8,
 0.8,0.9,1.0,1.1,1.2,1.0,1.1,1.3,1.2,1.3,
 1.1,1.0,1.2,1.4,1.8,1.3,1.1,1.2,1.6,1.1,
 0.9,0.9,1.0,0.9]
st2ce_diffpir = [0.4,0.7,0.6,0.8,0.9,0.9,0.8,1.1,0.9,0.6,
 0.7,0.5,0.8,0.7,0.5,0.8,0.7,0.6,0.8,0.5,
 0.6,0.7,0.8,0.6,0.7,0.9,0.7,0.8,1.4,0.9,
 0.7,0.6,0.5,0.6,0.7,0.6,0.5,0.6,0.7,0.6,
 0.5,0.7,0.8,0.6,0.7,0.6,0.8,0.9,1.0,0.8,
 0.9,0.7,0.8,1.0,0.8,1.0,1.1,1.0,2.4,1.0,
 0.8,0.8,0.9,0.7]
st2ce_dpnp = [0.9,1.7,1.2,1.0,1.1,1.3,1.2,1.3,1.6,1.7,
 2.2,1.5,0.9,1.2,1.0,0.8,1.3,1.0,0.9,1.1,
 1.0,0.9,1.2,1.0,0.9,1.1,1.0,1.4,1.6,1.2,
 1.0,0.9,1.0,0.85,0.9,1.0,0.8,1.0,0.9,1.1,
 0.8,1.0,0.9,1.1,1.0,0.9,1.1,1.5,1.2,1.6,
 1.2,1.0,1.1,1.4,1.2,1.5,1.8,1.3,2.9,1.3,
 1.1,1.3,1.6,1.4]
st2ce_gibbs = [1.0,1.2,1.2,1.2,1.1,1.2,1.3,1.3,1.2,1.4,
 1.6,1.7,1.3,1.1,1.0,1.0,0.9,1.0,1.0,1.0,
 1.1,1.0,1.1,1.1,1.0,0.9,0.9,1.3,1.65,1.6,
 1.2,1.0,0.9,0.9,1.0,1.1,1.1,0.9,0.9,1.0,
 0.9,0.9,1.0,0.9,0.85,0.9,1.0,1.1,1.2,1.3,
 1.3,1.2,1.1,1.1,1.0,1.1,1.4,1.6,2.5,1.4,
 1.1,1.1,1.2,1.35]

# Laplace(1)
lap1_cdps = [1.1,1.5,-0.1,0.4,0.8,1.85,1.7,2.0,2.2,0.6,
 -1.2,-2.4,-2.95,-4.4,-4.2,-3.35,-4.3,-4.9,-4.45,-4.1,
 -5.95,-5.1,-4.9,-5.1,-5.9,-5.55,-5.8,-5.85,-6.1,-6.6,
 -7.2,-8.85,-9.25,-9.8,-10.5,-13.25,-12.8,-11.9,-11.1,-10.5,
 -10.7,-8.5,-6.6,-4.1,-4.25,-2.8,-0.2,2.75,3.7,2.6,
 1.1,1.3,0.9,0.3,-0.8,-1.45,-1.1,-1.35,-1.6,-2.2,
 -2.4,-2.3,-2.2,-1.3]
lap1_diffpir = [1.3,1.4,0.0,0.45,0.85,1.9,1.8,2.05,2.25,0.75,
 -1.2,-2.3,-2.85,-4.4,-4.0,-3.35,-4.15,-4.8,-4.4,-4.25,
 -5.7,-5.0,-4.8,-5.1,-5.75,-5.45,-5.7,-5.8,-6.0,-6.4,
 -7.05,-8.75,-9.15,-9.7,-10.35,-13.0,-12.6,-11.8,-11.0,-10.4,
 -10.45,-8.35,-6.55,-4.0,-4.15,-2.8,-0.15,2.85,3.8,2.6,
 1.25,1.35,1.0,0.45,-0.6,-1.35,-1.0,-1.25,-1.45,-2.0,
 -2.0,-2.0,-2.15,-1.2]
lap1_dpnp = [1.25,1.3,-0.05,0.4,0.8,1.85,1.75,1.95,2.2,0.7,
 -1.1,-2.3,-2.9,-4.4,-4.1,-3.4,-4.2,-4.85,-4.35,-4.15,
 -5.7,-5.05,-4.85,-5.0,-5.8,-5.5,-5.7,-5.8,-6.05,-6.5,
 -7.0,-8.8,-9.2,-9.75,-10.4,-13.2,-12.7,-11.85,-11.05,-10.45,
 -10.5,-8.5,-6.6,-4.05,-4.2,-2.75,-0.1,2.8,3.75,2.6,
 1.2,1.35,0.95,0.4,-0.7,-1.4,-1.05,-1.3,-1.5,-2.1,
 -2.2,-2.05,-2.2,-1.25]
lap1_gibbs = [1.2,1.35,-0.1,0.4,0.8,1.9,1.75,2.0,2.25,0.7,
 -1.15,-2.35,-2.9,-4.45,-4.05,-3.4,-4.2,-4.85,-4.4,-4.2,
 -5.8,-5.05,-4.85,-5.05,-5.8,-5.5,-5.75,-5.8,-6.05,-6.45,
 -7.1,-8.8,-9.2,-9.75,-10.4,-13.15,-12.65,-11.85,-11.05,-10.4,
 -10.5,-8.4,-6.6,-4.05,-4.2,-2.75,-0.1,2.8,3.8,2.65,
 1.2,1.35,0.95,0.4,-0.65,-1.4,-1.05,-1.3,-1.5,-2.1,
 -2.1,-2.05,-2.2,-1.25]

lap2_cdps = [-0.7,-0.9,-1.35,-2.25,-0.7,-0.5,0.8,1.55,2.5,2.0,
 3.4,2.5,2.45,2.4,2.0,1.85,1.6,1.1,-0.6,-0.55,
 -0.6,0.8,1.0,1.75,1.45,0.75,0.15,-0.6,-2.5,-3.5,
 -4.0,-6.8,-8.35,-9.4,-8.4,-7.4,-8.35,-8.5,-8.7,-8.9,
 -8.8,-9.3,-8.1,-9.0,-9.4,-10.2,-9.6,-9.9,-10.5,-10.65,
 -10.35,-10.4,-10.8,-10.7,-10.2,-10.4,-11.1,-12.2,-11.5,-11.2,
 -12.2,-14.4,-15.2,-16.4]
lap2_diffpir = [-0.1,-0.8,-1.3,-2.2,-0.3,-0.35,0.9,1.65,2.6,2.1,
 3.55,2.6,2.55,2.6,2.1,1.95,1.8,1.2,-0.6,-0.7,
 -0.5,0.9,1.05,1.5,1.3,0.7,0.25,-0.5,-2.35,-3.2,
 -3.9,-6.7,-8.25,-9.3,-8.25,-7.3,-8.25,-8.4,-8.6,-8.8,
 -8.7,-9.2,-7.95,-8.85,-9.3,-10.1,-9.3,-9.8,-10.4,-10.55,
 -10.25,-10.25,-10.7,-10.55,-10.1,-10.35,-10.9,-12.1,-11.2,-11.05,
 -11.9,-14.3,-15.05,-16.3]
lap2_dpnp = [-0.6,-0.9,-1.4,-2.25,-0.5,-0.45,0.8,1.6,2.55,2.05,
 3.4,2.55,2.5,2.55,2.05,1.9,1.75,1.1,-0.55,-0.5,
 -0.55,0.85,1.0,1.45,1.3,0.7,0.2,-0.55,-2.4,-3.35,
 -3.95,-6.75,-8.3,-9.3,-8.3,-7.5,-8.3,-8.45,-8.6,-8.85,
 -8.75,-9.25,-8.05,-8.9,-9.35,-10.15,-9.4,-9.85,-10.45,-10.6,
 -10.3,-10.3,-10.75,-10.6,-10.15,-10.3,-10.95,-12.15,-11.3,-11.1,
 -12.1,-14.35,-15.1,-16.35]
lap2_gibbs = [-0.4,-0.85,-1.35,-2.25,-0.4,-0.4,0.85,1.6,2.55,2.05,
 3.45,2.55,2.5,2.55,2.05,1.9,1.75,1.15,-0.55,-0.5,
 -0.55,0.85,1.0,1.6,1.3,0.7,0.2,-0.55,-2.4,-3.35,
 -3.95,-6.75,-8.3,-9.35,-8.3,-7.35,-8.3,-8.45,-8.6,-8.85,
 -8.75,-9.25,-8.0,-8.9,-9.35,-10.15,-9.35,-9.85,-10.45,-10.6,
 -10.3,-10.3,-10.75,-10.6,-10.15,-10.3,-10.95,-12.15,-11.25,-11.1,
 -12.0,-14.35,-15.1,-16.35]

lap3_cdps = [2.1,3.1,5.4,5.7,6.7,6.8,6.7,3.2,3.2,3.7,
 2.4,2.3,2.7,3.3,3.4,3.4,0.2,0.8,0.9,1.2,
 3.2,3.6,3.8,3.2,5.4,5.2,3.8,4.7,4.5,6.2,
 6.5,6.3,7.2,8.8,8.6,8.9,8.7,7.8,5.9,7.2,
 7.2,5.9,6.8,7.6,7.7,7.5,7.6,7.7,8.4,7.0,
 7.0,7.8,7.9,9.6,10.6,11.8,9.2,9.8,10.7,8.6,
 9.0,9.2,10.9,12.2]
lap3_diffpir = [2.0,3.1,5.5,5.7,6.6,6.9,6.7,2.9,2.9,3.8,
 2.5,2.4,2.9,3.5,3.6,4.0,-0.1,0.4,0.6,1.1,
 3.4,3.5,3.7,3.4,5.6,5.3,3.9,4.7,4.5,6.1,
 6.4,6.3,7.2,8.7,8.6,8.8,8.7,7.9,6.4,7.3,
 7.1,5.8,6.7,7.3,7.4,7.3,7.3,7.7,8.4,7.3,
 7.5,8.2,7.9,9.7,10.6,11.75,9.3,9.8,10.7,8.7,
 9.1,9.0,10.9,12.2]
lap3_dpnp = [2.4,3.3,5.5,5.6,6.5,6.7,6.7,3.1,3.0,3.8,
 2.5,2.4,2.9,3.5,3.6,3.9,-0.1,0.4,0.6,1.1,
 3.3,3.5,3.7,3.4,5.6,5.0,4.2,4.9,4.6,6.0,
 6.3,6.3,7.2,8.8,8.9,8.8,8.6,7.9,6.5,7.2,
 7.2,6.0,6.6,7.3,7.4,7.4,7.6,7.7,8.6,7.2,
 6.9,8.4,8.0,9.6,10.6,11.6,9.3,9.8,10.7,8.7,
 9.1,9.3,10.9,12.2]
lap3_gibbs = [2.2,3.2,5.5,5.7,6.6,6.8,6.7,2.8,2.8,3.8,
 2.5,2.4,2.9,3.5,3.6,3.9,-0.1,0.4,0.6,1.1,
 3.3,3.5,3.7,3.4,5.5,5.3,3.9,4.8,4.55,6.1,
 6.4,6.3,7.2,8.9,8.6,8.8,8.6,7.9,6.4,7.3,
 7.2,5.8,6.7,7.35,7.45,7.4,7.65,7.75,8.5,7.25,
 7.3,8.25,7.95,9.7,10.65,11.7,9.3,9.8,10.75,8.7,
 9.1,9.3,10.95,12.2]

# Laplace(1) errors
lap1e_cdps = [0.65,0.6,0.75,0.6,0.5,0.4,0.55,0.7,0.85,0.95,
 1.05,0.85,0.75,0.85,1.0,0.85,0.8,0.75,0.8,0.75,
 0.9,0.7,0.65,0.7,0.75,0.6,0.7,0.65,0.75,0.85,
 0.8,0.95,0.85,0.9,0.85,0.6,0.65,0.8,0.75,0.9,
 1.1,1.3,1.15,0.85,1.0,1.2,1.0,0.9,0.8,0.7,
 0.9,0.85,0.65,0.7,0.75,0.9,0.85,0.7,0.9,0.85,
 0.8,0.75,0.7,1.1]
lap1e_diffpir = [0.78,0.8,0.75,0.5,0.7,0.45,0.5,0.5,0.6,0.75,
 0.7,0.8,0.65,0.7,0.85,0.75,0.65,0.5,0.45,0.4,
 0.5,0.55,0.6,0.7,0.5,0.65,0.55,0.7,0.6,0.8,
 0.9,0.8,0.7,0.75,0.85,1.05,0.65,0.6,0.4,0.7,
 0.85,1.1,0.9,0.6,1.05,0.95,0.7,0.8,0.9,0.65,
 0.55,0.5,0.7,0.9,0.95,0.85,0.6,0.5,0.45,0.5,
 0.45,0.65,0.7,0.75]
lap1e_dpnp = [0.45,0.6,0.75,0.8,0.7,0.55,0.7,0.9,0.85,1.28,
 1.2,1.15,0.95,0.75,0.55,0.55,0.7,0.8,0.9,0.85,
 1.0,0.75,0.7,0.8,0.6,0.7,0.6,0.7,0.6,0.85,
 1.15,0.9,0.75,0.85,1.0,0.8,0.7,0.75,0.6,0.8,
 1.1,1.2,1.0,0.9,1.1,1.2,1.05,1.55,1.1,0.9,
 0.8,0.75,0.6,0.85,0.6,0.55,0.75,0.6,0.55,0.5,
 0.45,0.6,0.9,1.35]
lap1e_gibbs = [0.85,0.97,0.95,0.88,0.8,0.75,0.78,0.82,0.9,1.0,
 1.1,1.05,1.0,0.95,0.9,0.85,0.8,0.78,0.78,0.77,
 0.8,0.75,0.72,0.7,0.68,0.68,0.7,0.72,0.75,0.8,
 0.85,0.95,1.0,0.98,0.95,1.0,0.95,0.88,0.85,0.9,
 1.0,1.2,1.3,1.1,0.95,1.05,1.2,1.25,1.2,1.1,
 1.0,0.9,0.8,0.75,0.7,0.72,0.75,0.72,0.7,0.7,
 0.72,0.75,0.8,1.2]

lap2e_cdps = [0.5,0.7,0.9,1.05,1.0,0.9,0.95,1.1,0.95,0.75,
 0.6,0.6,0.55,0.5,0.6,0.75,0.85,0.88,0.8,0.7,
 0.6,0.55,0.65,0.6,0.65,0.6,0.65,0.85,1.0,0.9,
 0.95,1.1,0.9,0.85,0.7,0.65,0.6,0.65,0.75,0.7,
 0.6,0.55,0.6,0.7,0.75,0.65,0.6,0.55,0.7,0.55,
 0.5,0.6,0.75,0.65,0.7,0.8,0.7,0.85,0.9,0.95,
 0.9,1.0,1.05,1.15]
lap2e_diffpir = [0.4,0.65,0.6,0.7,0.45,0.5,0.55,0.45,0.5,0.55,
 0.6,0.5,0.45,0.35,0.4,0.45,0.4,0.5,0.55,0.6,
 0.5,0.45,0.6,0.4,0.5,0.45,0.55,0.4,0.5,0.6,
 0.65,0.75,0.7,0.6,0.5,0.45,0.55,0.6,0.55,0.45,
 0.4,0.5,0.55,0.4,0.35,0.45,0.55,0.6,0.5,0.45,
 0.55,0.4,0.35,0.45,0.5,0.6,0.45,0.55,0.6,0.65,
 0.7,0.7,0.75,0.8]
lap2e_dpnp = [0.62,0.6,0.65,0.8,0.95,0.98,0.85,0.75,0.7,0.65,
 0.6,0.5,0.45,0.5,0.55,0.6,0.5,0.8,0.75,0.7,
 0.6,0.65,0.7,0.72,0.7,0.55,0.6,0.75,0.8,0.95,
 1.1,0.9,1.05,0.85,0.9,0.8,0.7,0.6,0.5,0.65,
 0.55,0.7,0.75,0.65,0.7,0.8,0.6,0.5,0.65,0.55,
 0.45,0.5,0.6,0.75,0.5,0.65,0.55,0.8,0.7,0.85,
 0.95,1.0,0.85,0.8]
lap2e_gibbs = [0.55,0.7,0.85,0.95,0.9,0.85,0.8,0.75,0.75,0.78,
 0.8,0.75,0.7,0.65,0.63,0.63,0.65,0.7,0.78,0.82,
 0.78,0.72,0.7,0.7,0.68,0.65,0.7,0.78,0.85,0.92,
 0.95,0.95,0.92,0.88,0.85,0.82,0.8,0.75,0.72,0.7,
 0.7,0.72,0.7,0.68,0.7,0.72,0.75,0.75,0.72,0.68,
 0.65,0.62,0.6,0.62,0.65,0.68,0.7,0.72,0.75,0.8,
 0.88,0.98,1.1,1.25]

lap3e_cdps = [1.1,1.1,0.95,0.75,0.8,0.7,0.65,0.75,0.9,0.8,
 0.75,0.8,0.65,0.6,0.75,0.9,1.0,0.95,0.8,0.75,
 0.8,1.0,0.75,0.8,0.75,0.7,0.8,0.9,0.8,1.0,
 0.85,0.75,0.7,0.9,0.8,0.75,0.85,0.7,0.65,0.7,
 0.6,0.55,0.5,0.55,0.6,0.55,0.6,0.5,0.7,0.85,
 1.0,1.1,0.95,1.25,0.9,0.8,0.75,0.95,0.85,0.8,
 0.75,0.85,1.0,1.05]
lap3e_diffpir = [0.85,0.9,0.6,0.65,0.7,0.75,0.7,0.8,0.75,0.7,
 0.65,0.45,0.45,0.5,0.7,0.45,0.6,0.7,0.55,0.65,
 0.7,0.55,0.65,0.6,0.7,0.55,0.45,0.65,0.55,0.7,
 0.6,0.5,0.65,0.55,0.7,0.6,0.55,0.65,0.55,0.5,
 0.55,0.6,0.5,0.45,0.5,0.6,0.55,0.5,0.35,0.55,
 0.6,0.65,0.7,0.8,0.75,0.65,0.85,0.75,0.5,0.45,
 0.7,0.9,0.75,0.7]
lap3e_dpnp = [0.9,1.3,1.1,0.85,0.8,0.7,0.65,0.9,1.15,1.28,
 1.15,1.0,0.85,0.6,0.55,0.6,0.85,1.0,0.85,0.75,
 1.0,0.9,0.8,0.9,1.0,1.05,1.15,1.0,0.9,1.05,
 0.85,0.7,1.0,1.1,0.8,0.95,0.65,1.1,0.95,0.7,
 1.05,1.2,0.75,0.6,0.5,0.55,0.85,1.0,1.35,0.9,
 1.1,1.0,0.8,1.2,1.45,1.0,0.75,1.25,1.5,0.9,
 0.8,0.95,1.0,1.65]
lap3e_gibbs = [1.1,1.05,1.0,0.9,0.85,0.8,0.78,0.85,0.95,1.05,
 1.1,1.05,0.95,0.85,0.8,0.85,0.9,0.95,0.95,0.9,
 0.85,0.82,0.8,0.82,0.85,0.9,0.95,0.95,0.92,0.88,
 0.85,0.85,0.9,0.95,0.95,0.88,0.8,0.78,0.75,0.75,
 0.75,0.75,0.75,0.78,0.8,0.85,0.9,0.9,0.92,0.95,
 1.0,1.1,1.2,1.15,1.1,1.05,1.0,0.98,0.95,0.95,
 1.0,1.1,1.2,1.38]

row_labels = [r"$\mathrm{BL}(0.1,\,1)$", r"$\mathrm{St}(1)$", r"$\mathrm{St}(2)$",
              r"$\mathrm{Laplace}(1)$"]

main_panels = [
    [[bl1_cdps, bl1_diffpir, bl1_dpnp, bl1_gibbs],
     [bl2_cdps, bl2_diffpir, bl2_dpnp, bl2_gibbs],
     [bl3_cdps, bl3_diffpir, bl3_dpnp, bl3_gibbs]],
    [[st1a_cdps, st1a_diffpir, st1a_dpnp, st1a_gibbs],
     [st1b_cdps, st1b_diffpir, st1b_dpnp, st1b_gibbs],
     [st1c_cdps, st1c_diffpir, st1c_dpnp, st1c_gibbs]],
    [[st2a_cdps, st2a_diffpir, st2a_dpnp, st2a_gibbs],
     [st2b_cdps, st2b_diffpir, st2b_dpnp, st2b_gibbs],
     [st2c_cdps, st2c_diffpir, st2c_dpnp, st2c_gibbs]],
    [[lap1_cdps, lap1_diffpir, lap1_dpnp, lap1_gibbs],
     [lap2_cdps, lap2_diffpir, lap2_dpnp, lap2_gibbs],
     [lap3_cdps, lap3_diffpir, lap3_dpnp, lap3_gibbs]],
]
err_panels = [
    [[bl1e_cdps, bl1e_diffpir, bl1e_dpnp, bl1e_gibbs],
     [bl2e_cdps, bl2e_diffpir, bl2e_dpnp, bl2e_gibbs],
     [bl3e_cdps, bl3e_diffpir, bl3e_dpnp, bl3e_gibbs]],
    [[st1ae_cdps, st1ae_diffpir, st1ae_dpnp, st1ae_gibbs],
     [st1be_cdps, st1be_diffpir, st1be_dpnp, st1be_gibbs],
     [st1ce_cdps, st1ce_diffpir, st1ce_dpnp, st1ce_gibbs]],
    [[st2ae_cdps, st2ae_diffpir, st2ae_dpnp, st2ae_gibbs],
     [st2be_cdps, st2be_diffpir, st2be_dpnp, st2be_gibbs],
     [st2ce_cdps, st2ce_diffpir, st2ce_dpnp, st2ce_gibbs]],
    [[lap1e_cdps, lap1e_diffpir, lap1e_dpnp, lap1e_gibbs],
     [lap2e_cdps, lap2e_diffpir, lap2e_dpnp, lap2e_gibbs],
     [lap3e_cdps, lap3e_diffpir, lap3e_dpnp, lap3e_gibbs]],
]

main_steps = [[2, 2, 1], [20, 20, 100], [10, 5, 10], [5, 10, 5]]
err_steps = [[0.1, 0.1, 2], [20, 20, 50], [2, 1, 1], [0.5, 0.5, 0.5]]

# ---------------- style ----------------
sns.set_theme(style="white")
plt.rcParams["mathtext.fontset"] = "cm"
plt.rcParams["font.family"] = ["DejaVu Serif"]

colors = {"C-DPS": "#1f62ab", "DiffPIR": "#dd1420", "DPnP": "#168a16", "Gibbs": "#000000"}
marks = {"C-DPS": "o", "DiffPIR": "x", "DPnP": "^", "Gibbs": None}
LW = 1.1

W, H = 1019, 1575
fig = plt.figure(figsize=(W / 100, H / 100), dpi=100)
fig.patch.set_facecolor("white")

col_left = [73.1, 407.7, 741.3]
col_w = 281.2
main_rows = [(7, 264), (399, 657), (791, 1049), (1183, 1441)]
err_rows = [(291, 372), (684, 763), (1076, 1156), (1469, 1548)]


def fmt(v, pos):
    if abs(v) < 1e-12:
        v = 0
    return "$%g$" % v


def marker_kw(m):
    return dict(marker=marks[m], markersize=3.6 if m != "DiffPIR" else 4.2,
                markeredgecolor=colors[m],
                markeredgewidth=1.0 if m == "DiffPIR" else 0.3)


def draw(ax, series):
    for m, y in zip(methods, series):
        x = np.arange(len(y))
        kw = dict(color=colors[m], linewidth=LW, legend=False)
        if marks[m] is not None:
            kw.update(markevery=5, **marker_kw(m))
        sns.lineplot(x=x, y=y, ax=ax, **kw)


def style(ax, ystep, bottom_labels):
    ax.xaxis.set_major_locator(MultipleLocator(20))
    ax.yaxis.set_major_locator(MultipleLocator(ystep))
    ax.xaxis.set_major_formatter(FuncFormatter(fmt))
    ax.yaxis.set_major_formatter(FuncFormatter(fmt))
    ax.tick_params(direction="in", length=5, width=0.8, color="#8a8a8a",
                   top=True, right=True, left=True, bottom=True,
                   labelsize=11, pad=4, labelcolor="black")
    ax.tick_params(axis="x", labelbottom=bottom_labels, pad=7)
    for s in ax.spines.values():
        s.set_color("black")
        s.set_linewidth(0.8)
    ax.set_xlabel("")
    ax.set_ylabel("")
    ax.set_facecolor("white")


for r in range(4):
    for c in range(3):
        top, bot = main_rows[r]
        ax = fig.add_axes([col_left[c] / W, 1 - bot / H, col_w / W, (bot - top) / H])
        draw(ax, main_panels[r][c])
        n = len(main_panels[r][c][0])
        ax.set_xlim(-0.1 * (n - 1), 1.1 * (n - 1))
        allv = np.concatenate([np.asarray(s, float) for s in main_panels[r][c]])
        lo, hi = allv.min(), allv.max()
        ax.set_ylim(lo - 0.1 * (hi - lo), hi + 0.1 * (hi - lo))
        style(ax, main_steps[r][c], False)
        if c == 0:
            ax.set_ylabel(row_labels[r], fontsize=12.5)
            ax.yaxis.set_label_coords(-0.16, 0.5)

        top, bot = err_rows[r]
        ax2 = fig.add_axes([col_left[c] / W, 1 - bot / H, col_w / W, (bot - top) / H])
        draw(ax2, err_panels[r][c])
        n = len(err_panels[r][c][0])
        ax2.set_xlim(-0.1 * (n - 1), 1.1 * (n - 1))
        allv = np.concatenate([np.asarray(s, float) for s in err_panels[r][c]])
        ax2.set_ylim(0, 1.1 * allv.max())
        style(ax2, err_steps[r][c], r == 3)

# scale note for the third BL error panel
fig.text(745 / W, 1 - 290 / H, r"$\cdot 10^{-2}$", fontsize=13, ha="left", va="baseline")

# legend
handles = []
for m in methods:
    if marks[m] is None:
        handles.append(Line2D([], [], color=colors[m], lw=LW))
    else:
        handles.append(Line2D([], [], color=colors[m], lw=LW, **marker_kw(m)))
leg = fig.legend(handles, methods, loc="upper right",
                 bbox_to_anchor=(1013 / W, 1 - 14 / H), bbox_transform=fig.transFigure,
                 borderaxespad=0, frameon=True, fancybox=False, framealpha=1,
                 edgecolor="black", handlelength=2.7, handletextpad=0.5,
                 labelspacing=0.7, borderpad=0.6,
                 prop={"family": "Liberation Serif", "size": 12.5})
leg.get_frame().set_linewidth(0.8)

fig.savefig("out.png", dpi=100, facecolor="white")
